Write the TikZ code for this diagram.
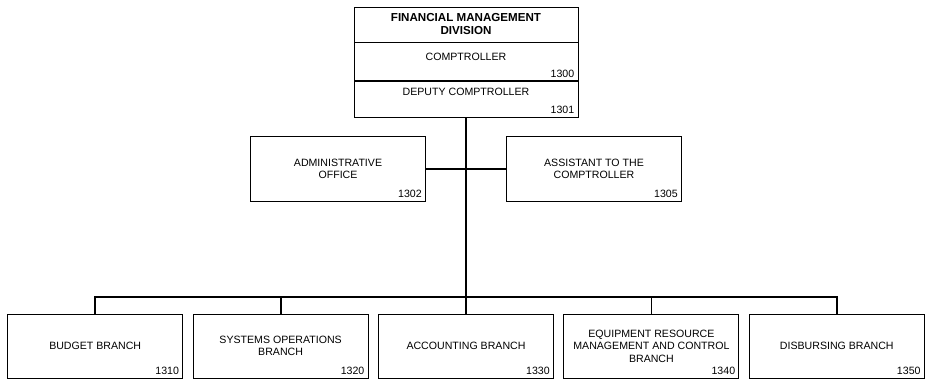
\documentclass[tikz,border=0pt]{standalone}
\usepackage{fontspec}
\setmainfont{Liberation Sans}
\usetikzlibrary{positioning}
\tikzstyle{unit} = [rectangle, draw, line width=0.9pt, align=center, minimum width=175pt, minimum height=64pt, inner sep=0pt]
\tikzstyle{sect} = [rectangle, draw, line width=0.9pt, align=center, minimum width=224pt, inner sep=0pt]
\tikzstyle{num} = [anchor=south east, inner sep=4pt]
\tikzstyle{line} = [draw, line width=1.8pt]

\begin{document}
\begin{tikzpicture}[x=1pt, y=1pt, font=\fontsize{10.6}{12.5}\selectfont]
    \useasboundingbox (0,0) rectangle (926,382);
    % division box
    \node[sect, minimum height=35pt, font=\fontsize{11.6}{13}\selectfont\bfseries] (FMD) at (466,357.5) {FINANCIAL MANAGEMENT\\DIVISION};
    \node[sect, minimum height=38pt, below=0pt of FMD] (COMP) {};
    \node[sect, minimum height=36pt, below=0pt of COMP] (DEP) {};
    \node[inner sep=0pt, below=10pt of COMP.north] (COMPt) {COMPTROLLER};
    \node[inner sep=0pt, below=7pt of DEP.north] (DEPt) {DEPUTY COMPTROLLER};
    \node[num] (n1300) at (COMP.south east) {1300};
    \node[num] (n1301) at (DEP.south east) {1301};
    % staff offices
    \node[unit, minimum height=65pt] (ADM) at (338,213) {ADMINISTRATIVE\\OFFICE};
    \node[unit, minimum height=65pt] (AST) at (594,213) {ASSISTANT TO THE\\COMPTROLLER};
    \node[num] (n1302) at (ADM.south east) {1302};
    \node[num] (n1305) at (AST.south east) {1305};
    % branches
    \node[unit] (ACC) at (466,36) {ACCOUNTING BRANCH};
    \node[unit, left=9.5pt of ACC] (SYS) {SYSTEMS OPERATIONS\\BRANCH};
    \node[unit, left=9.5pt of SYS] (BUD) {BUDGET BRANCH};
    \node[unit, right=9.5pt of ACC] (EQP) {EQUIPMENT RESOURCE\\MANAGEMENT AND CONTROL\\BRANCH};
    \node[unit, right=9.5pt of EQP] (DIS) {DISBURSING BRANCH};
    \node[num] (n1310) at (BUD.south east) {1310};
    \node[num] (n1320) at (SYS.south east) {1320};
    \node[num] (n1330) at (ACC.south east) {1330};
    \node[num] (n1340) at (EQP.south east) {1340};
    \node[num] (n1350) at (DIS.south east) {1350};
    % connectors
    \coordinate (bus) at (466,85);
    \path[line] (DEP) -- (ACC);
    \path[line] (ADM) -- (AST);
    \path[line] (BUD.north) |- (bus) -| (DIS.north);
    \path[line] (SYS.north) -- (SYS.north |- bus);
    \path[line] (EQP.north) -- (EQP.north |- bus);
\end{tikzpicture}
\end{document}
